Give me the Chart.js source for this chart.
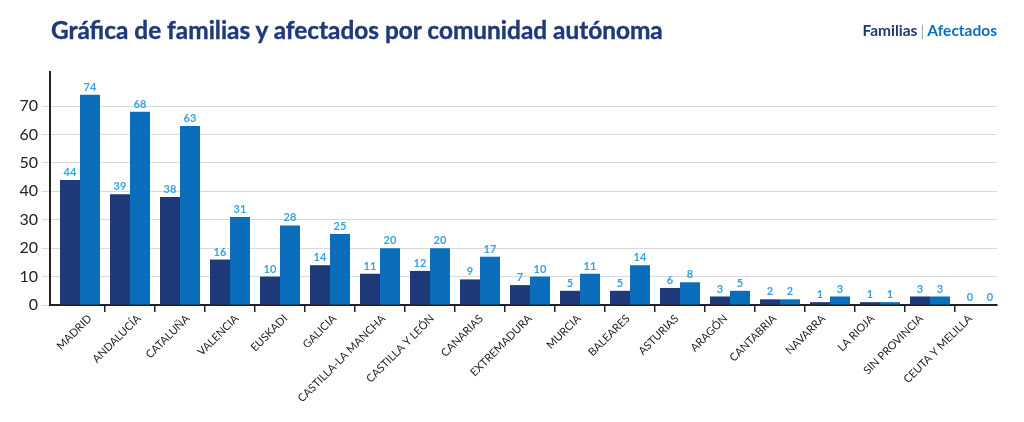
<!DOCTYPE html>
<html>
<head>
<meta charset="utf-8">
<script src="https://cdn.jsdelivr.net/npm/chart.js@4/dist/chart.umd.min.js"></script>
<style>
  html, body { margin: 0; padding: 0; background: #fff; }
  .wrap { position: relative; width: 1024px; height: 422px; overflow: hidden; }
  .title {
    position: absolute; left: 51px; top: 15px;
    font-family: Lato, sans-serif; font-weight: 700; font-size: 24.4px;
    color: #1f3a7a; white-space: nowrap; -webkit-text-stroke: 0.4px #1f3a7a;
  }
  .legend {
    position: absolute; right: 27px; top: 21px;
    font-family: Lato, sans-serif; font-weight: 700; font-size: 15.5px; white-space: nowrap;
  }
  .legend .fam { color: #1f3a7a; }
  .legend .sep { color: #aaa; font-weight: 400; padding: 0 3px; }
  .legend .afe { color: #0a6ebd; }
  canvas { position: absolute; left: 0; top: 0; }
</style>
</head>
<body>
<div class="wrap">
  <canvas id="chart" width="1024" height="422"></canvas>
  <div class="title">Gráfica de familias y afectados por comunidad autónoma</div>
  <div class="legend"><span class="fam">Familias</span><span class="sep">|</span><span class="afe">Afectados</span></div>
</div>
<script>
const categories = ['MADRID', 'ANDALUCÍA', 'CATALUÑA', 'VALENCIA', 'EUSKADI', 'GALICIA',
  'CASTILLA-LA MANCHA', 'CASTILLA Y LEÓN', 'CANARIAS', 'EXTREMADURA', 'MURCIA', 'BALEARES',
  'ASTURIAS', 'ARAGÓN', 'CANTABRIA', 'NAVARRA', 'LA RIOJA', 'SIN PROVINCIA', 'CEUTA Y MELILLA'];
const familias = [44, 39, 38, 16, 10, 14, 11, 12, 9, 7, 5, 5, 6, 3, 2, 1, 1, 3, 0];
const afectados = [74, 68, 63, 31, 28, 25, 20, 20, 17, 10, 11, 14, 8, 5, 2, 3, 1, 3, 0];
const yTicks = [0, 10, 20, 30, 40, 50, 60, 70];

// category axis: bands start a bit right of the y axis, run past the axis end,
// and the rotated labels are spaced slightly tighter than the bars
class ShiftedCategoryScale extends Chart.CategoryScale {
  configure() {
    super.configure();
    const o = this.options;
    this._startPixel = this.left + (o.startGap || 0);
    this._endPixel = this.right + (o.endOverflow || 0);
    this._length = this._endPixel - this._startPixel;
  }
  _computeLabelItems(chartArea) {
    const items = super._computeLabelItems(chartArea);
    const drift = this.options.labelDrift || 0;
    items.forEach((item, i) => { item.options.translation[0] += drift * i; });
    return items;
  }
}
ShiftedCategoryScale.id = 'shiftedCategory';
ShiftedCategoryScale.defaults = Chart.CategoryScale.defaults;
Chart.register(ShiftedCategoryScale);

// numbers above each bar
const valueLabels = {
  id: 'valueLabels',
  afterDatasetsDraw(chart) {
    const ctx = chart.ctx;
    ctx.save();
    ctx.font = 'bold 11px Lato, sans-serif';
    ctx.fillStyle = '#35a3de';
    ctx.textAlign = 'center';
    ctx.textBaseline = 'bottom';
    chart.data.datasets.forEach((ds, i) => {
      chart.getDatasetMeta(i).data.forEach((bar, j) => {
        ctx.fillText(ds.data[j], bar.x, bar.y - 2);
      });
    });
    ctx.restore();
  }
};

new Chart(document.getElementById('chart'), {
  type: 'bar',
  data: {
    labels: categories,
    datasets: [
      { label: 'Familias', data: familias, backgroundColor: '#1f3a7a' },
      { label: 'Afectados', data: afectados, backgroundColor: '#0a6ebd' }
    ]
  },
  options: {
    responsive: false,
    animation: false,
    layout: { padding: { left: 0, right: 27, top: 72, bottom: 0 } },
    plugins: { legend: { display: false }, tooltip: { enabled: false } },
    datasets: { bar: { categoryPercentage: 0.8, barPercentage: 1.0 } },
    scales: {
      x: {
        type: 'shiftedCategory',
        startGap: 5,
        endOverflow: 8,
        labelDrift: -1.1,
        afterFit(scale) { scale.height = 117; },
        grid: {
          display: true, offset: true, drawOnChartArea: false, tickLength: 7, lineWidth: 1.5,
          color: c => (c.index === undefined || c.index === 0 ? 'rgba(0,0,0,0)' : '#222')
        },
        border: { color: '#222', width: 2 },
        ticks: {
          minRotation: 45, maxRotation: 45, autoSkip: false, labelOffset: 10, padding: 0,
          color: '#222', font: { family: 'Lato, sans-serif', size: 11 }
        }
      },
      y: {
        min: 0, max: 82,
        afterFit(scale) { scale.width = 50; },
        afterBuildTicks(scale) { scale.ticks = yTicks.map(v => ({ value: v })); },
        grid: { color: '#d9d9d9', lineWidth: 1, tickLength: 8 },
        border: { color: '#222', width: 2 },
        ticks: { color: '#222', padding: 4, font: { family: 'Lato, sans-serif', size: 16 } }
      }
    }
  },
  plugins: [valueLabels]
});
</script>
</body>
</html>
